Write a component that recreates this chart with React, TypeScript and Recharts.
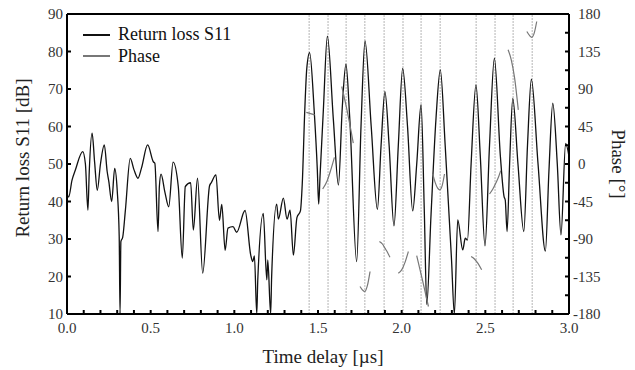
import React from 'react'
import {
  ComposedChart,
  Line,
  XAxis,
  YAxis,
  ReferenceLine,
  Legend,
  Label,
} from 'recharts'

const FONT = '"Liberation Serif", "Times New Roman", serif'

// return loss S11 [dB] against time delay [µs]
const rlTime = [
  0.0, 0.01, 0.03, 0.05, 0.094, 0.11, 0.125, 0.133, 0.15, 0.165, 0.181, 0.2,
  0.223, 0.24, 0.25, 0.267, 0.285, 0.3, 0.312, 0.317, 0.322, 0.333, 0.349,
  0.378, 0.4, 0.424, 0.445, 0.482, 0.516, 0.525, 0.544, 0.552, 0.562, 0.585,
  0.608, 0.634, 0.665, 0.689, 0.707, 0.739, 0.755, 0.78, 0.811, 0.852, 0.862,
  0.89, 0.911, 0.925, 0.945, 0.962, 0.992, 1.014, 1.064, 1.098, 1.11, 1.12,
  1.134, 1.14, 1.173, 1.194, 1.2, 1.217, 1.223, 1.253, 1.263, 1.293, 1.315,
  1.333, 1.353, 1.374, 1.395, 1.406, 1.421, 1.433, 1.45, 1.477, 1.496, 1.504,
  1.512, 1.532, 1.556, 1.592, 1.622, 1.645, 1.667, 1.69, 1.731, 1.757, 1.781,
  1.818, 1.855, 1.877, 1.9, 1.925, 1.954, 1.98, 2.006, 2.035, 2.066, 2.09,
  2.116, 2.135, 2.15, 2.175, 2.205, 2.231, 2.26, 2.298, 2.315, 2.335, 2.365,
  2.38, 2.393, 2.415, 2.444, 2.47, 2.498, 2.525, 2.554, 2.59, 2.612, 2.619,
  2.63, 2.645, 2.664, 2.695, 2.73, 2.752, 2.775, 2.815, 2.859, 2.88, 2.903,
  2.93, 2.952, 2.98, 3.0,
]
const rlDb = [
  42.3, 41.2, 45.7, 48.4, 53.3, 50.0, 37.7, 48.0, 58.2, 50.5, 43.0, 50.0,
  55.1, 48.0, 45.3, 40.0, 48.8, 43.0, 30.6, 10.0, 29.3, 30.5, 37.7,
  51.5, 48.5, 46.2, 48.9, 55.1, 50.6, 50.2, 32.0, 44.0, 47.3, 42.5,
  38.6, 50.5, 44.0, 24.9, 44.0, 45.0, 32.4, 46.2, 20.9, 44.2, 45.0,
  47.1, 35.0, 39.2, 27.0, 32.9, 33.3, 31.8, 37.6, 25.7, 24.0, 25.5,
  10.0, 19.0, 36.8, 19.1, 24.4, 10.0, 20.0, 39.3, 35.3, 40.9, 35.3,
  37.7, 25.7, 35.7, 37.5, 44.8, 64.4, 75.5, 79.7, 64.4, 48.4, 39.3,
  46.6, 64.4, 84.1, 61.7, 44.4, 65.0, 76.6, 62.0, 24.0, 60.0, 82.8,
  60.0, 37.9, 55.0, 69.3, 55.0, 33.5, 55.0, 75.5, 60.0, 37.5, 50.0,
  65.8, 38.0, 12.5, 36.0, 62.0, 75.1, 55.0, 24.4, 10.0, 35.1, 27.1,
  30.2, 29.7, 50.0, 71.1, 52.0, 28.2, 55.0, 78.2, 52.0, 41.3, 40.4,
  32.0, 50.0, 67.5, 50.0, 32.0, 55.0, 72.6, 50.0, 26.8, 48.0, 66.2,
  50.0, 31.1, 55.5, 52.0,
]

// phase [°], only shown in short pieces around the echoes
const phaseSegments: [number, number][][] = [
  [[1.43, 62], [1.455, 60.5], [1.48, 59]],
  [[1.528, -30], [1.555, -20], [1.575, -8], [1.598, 8]],
  [[1.642, 93], [1.67, 68], [1.711, 25]],
  [[1.751, -147], [1.765, -151], [1.78, -153], [1.795, -146], [1.811, -129]],
  [[1.867, -93], [1.885, -96], [1.9, -101], [1.915, -106], [1.93, -112]],
  [[1.98, -131], [2.0, -127], [2.02, -118], [2.04, -105]],
  [[2.09, -110], [2.125, -140], [2.16, -171]],
  [[2.186, -12], [2.2, -22], [2.215, -29], [2.228, -31], [2.242, -26], [2.256, -12]],
  [[2.415, -111], [2.435, -114], [2.455, -119], [2.478, -127]],
  [[2.525, -36], [2.545, -30], [2.565, -22], [2.58, -15], [2.592, -8]],
  [[2.636, 137], [2.655, 125], [2.675, 103], [2.697, 65]],
  [[2.748, 159], [2.765, 154], [2.777, 152], [2.792, 157], [2.807, 171]],
]

// echo positions marked with thin vertical lines
const echoTimes = [
  1.447, 1.56, 1.668, 1.78, 1.895, 2.008, 2.116, 2.23, 2.445, 2.558, 2.666, 2.78,
]

const xTicks = [
  0, 0.1, 0.2, 0.3, 0.4, 0.5, 0.6, 0.7, 0.8, 0.9, 1.0, 1.1, 1.2, 1.3, 1.4, 1.5,
  1.6, 1.7, 1.8, 1.9, 2.0, 2.1, 2.2, 2.3, 2.4, 2.5, 2.6, 2.7, 2.8, 2.9, 3.0,
]
const rlTicks = [10, 20, 30, 40, 50, 60, 70, 80, 90]
const phaseTicks = [
  -180, -157.5, -135, -112.5, -90, -67.5, -45, -22.5, 0, 22.5, 45, 67.5, 90,
  112.5, 135, 157.5, 180,
]

const rlData = rlTime.map((t, i) => ({ t, v: rlDb[i] }))

const XTick = (props: any) => {
  const { x, y, payload } = props
  const v = payload.value
  const labelled = Math.abs(v * 2 - Math.round(v * 2)) < 1e-6
  return (
    <g>
      <line x1={x} x2={x} y1={y} y2={y - 4} stroke="#000" strokeWidth={2} />
      {labelled && (
        <text x={x} y={y + 19} textAnchor="middle" fontFamily={FONT} fontSize={15} fill="#333">
          {v.toFixed(1)}
        </text>
      )}
    </g>
  )
}

const LeftTick = (props: any) => {
  const { x, y, payload } = props
  return (
    <g>
      <line x1={x} x2={x + 4} y1={y} y2={y} stroke="#000" strokeWidth={2} />
      <text x={x - 4} y={y} dy="0.34em" textAnchor="end" fontFamily={FONT} fontSize={15} fill="#333">
        {payload.value}
      </text>
    </g>
  )
}

const RightTick = (props: any) => {
  const { x, y, payload } = props
  const v = payload.value
  const labelled = v % 45 === 0
  return (
    <g>
      <line x1={x} x2={x - 4} y1={y} y2={y} stroke="#000" strokeWidth={2} />
      {labelled && (
        <text x={v < 0 ? x + 4 : x + 9} y={y} dy="0.34em" textAnchor="start" fontFamily={FONT} fontSize={15} fill="#333">
          {v}
        </text>
      )}
    </g>
  )
}

const LegendBox = () => (
  <div style={{ fontFamily: FONT, fontSize: 18, color: '#111', lineHeight: '21px' }}>
    {[
      { name: 'Return loss S11', color: '#111' },
      { name: 'Phase', color: '#777' },
    ].map((item) => (
      <div key={item.name} style={{ display: 'flex', alignItems: 'center', height: 21.5 }}>
        <svg width={27} height={4} style={{ marginRight: 8 }}>
          <line x1={0} x2={27} y1={2} y2={2} stroke={item.color} strokeWidth={2} />
        </svg>
        <span>{item.name}</span>
      </div>
    ))}
  </div>
)

export default function App() {
  return (
    <div style={{ position: 'absolute', left: 0, top: 0, background: '#fff' }}>
      <ComposedChart width={635} height={370} margin={{ top: 14, right: 0, bottom: 0, left: 0 }}>
        <XAxis
          type="number"
          dataKey="t"
          domain={[0, 3]}
          ticks={xTicks}
          interval={0}
          tick={<XTick />}
          tickLine={false}
          tickSize={0}
          tickMargin={0}
          height={56}
          allowDataOverflow
          axisLine={{ stroke: '#000', strokeWidth: 2 }}
        >
          <Label
            content={() => (
              <text x={323} y={363} textAnchor="middle" fontFamily={FONT} fontSize={19} fill="#222">
                Time delay [µs]
              </text>
            )}
          />
        </XAxis>
        <YAxis
          yAxisId="rl"
          orientation="left"
          width={67}
          domain={[10, 90]}
          ticks={rlTicks}
          interval={0}
          tick={<LeftTick />}
          tickLine={false}
          tickSize={0}
          tickMargin={0}
          allowDataOverflow
          axisLine={{ stroke: '#000', strokeWidth: 2 }}
        >
          <Label
            content={() => (
              <text
                transform="translate(29,158) rotate(-90)"
                textAnchor="middle"
                fontFamily={FONT}
                fontSize={19}
                fill="#222"
              >
                Return loss S11 [dB]
              </text>
            )}
          />
        </YAxis>
        <YAxis
          yAxisId="ph"
          orientation="right"
          width={66}
          domain={[-180, 180]}
          ticks={phaseTicks}
          interval={0}
          tick={<RightTick />}
          tickLine={false}
          tickSize={0}
          tickMargin={0}
          allowDataOverflow
          axisLine={{ stroke: '#000', strokeWidth: 2 }}
        >
          <Label
            content={() => (
              <text
                transform="translate(612,164) rotate(90)"
                textAnchor="middle"
                fontFamily={FONT}
                fontSize={19}
                fill="#222"
              >
                Phase [°]
              </text>
            )}
          />
        </YAxis>
        {echoTimes.map((t) => (
          <ReferenceLine
            key={t}
            x={t}
            yAxisId="rl"
            stroke="#b5b5b5"
            strokeWidth={1}
            strokeDasharray="2 1"
          />
        ))}
        <ReferenceLine y={90} yAxisId="rl" stroke="#000" strokeWidth={2} />
        <Line
          data={rlData}
          dataKey="v"
          yAxisId="rl"
          name="Return loss S11"
          type="monotone"
          stroke="#111"
          strokeWidth={1.3}
          dot={false}
          isAnimationActive={false}
        />
        {phaseSegments.map((seg, i) => (
          <Line
            key={i}
            data={seg.map(([t, v]) => ({ t, v }))}
            dataKey="v"
            yAxisId="ph"
            name={i === 0 ? 'Phase' : `Phase ${i}`}
            type="monotone"
            stroke="#777"
            strokeWidth={1.2}
            dot={false}
            isAnimationActive={false}
          />
        ))}
        <Legend
          layout="vertical"
          align="center"
          verticalAlign="middle"
          wrapperStyle={{ left: 83, top: 24, width: 'auto' }}
          content={() => <LegendBox />}
        />
      </ComposedChart>
    </div>
  )
}
